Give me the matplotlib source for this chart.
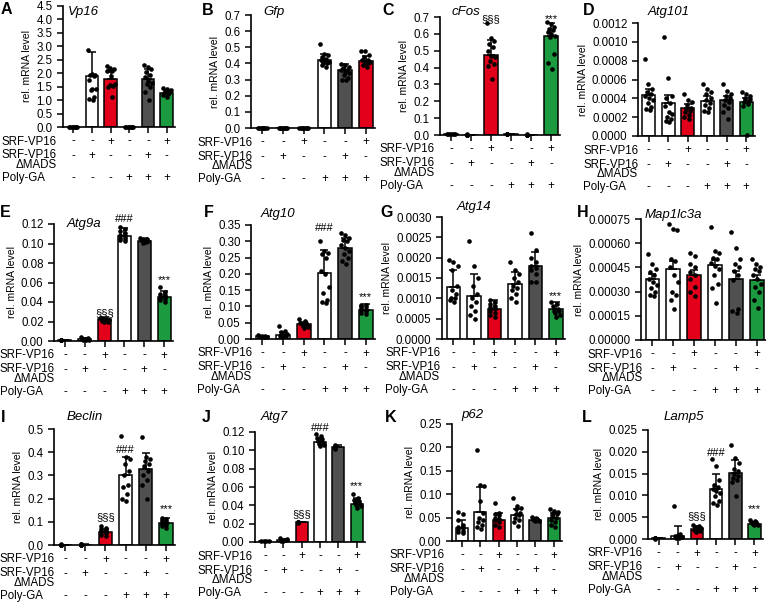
import matplotlib
matplotlib.use("Agg")
import matplotlib.pyplot as plt
import matplotlib.transforms as mtransforms
import numpy as np

plt.rcParams.update({
    "font.family": ["Liberation Sans", "DejaVu Sans"],
    "axes.spines.top": False,
    "axes.spines.right": False,
    "axes.linewidth": 1.2,
})

# condition table under every panel
ROW_SRF = ["-", "-", "+", "-", "-", "+"]
ROW_DMADS = ["-", "+", "-", "-", "+", "-"]
ROW_POLYGA = ["-", "-", "-", "+", "+", "+"]

WHITE, RED, GREY, GREEN = "#ffffff", "#e3001b", "#505050", "#1c9a3f"
COLORS_STD = [WHITE, WHITE, RED, WHITE, GREY, GREEN]
COLORS_GFP = [WHITE, WHITE, WHITE, WHITE, GREY, RED]

# A  Vp16
VP16_MEAN = [0.0, 1.89, 1.77, 0.0, 1.80, 1.28]
VP16_SD = [0.0, 0.90, 0.35, 0.0, 0.35, 0.10]
VP16_PTS = [
    [0.0, 0.0, 0.0, 0.0, 0.0, 0.0, 0.0, 0.0],
    [2.85, 1.97, 1.95, 1.93, 1.9, 1.75, 1.42, 1.40, 1.38, 1.1, 1.05, 1.02],
    [2.28, 2.2, 2.15, 2.12, 2.1, 2.08, 1.9, 1.6, 1.55, 1.52, 1.5, 1.12],
    [0.0, 0.0, 0.0, 0.0, 0.0, 0.0, 0.0, 0.0],
    [2.3, 2.25, 2.15, 2.05, 1.95, 1.85, 1.7, 1.65, 1.6, 1.5, 1.3, 1.0],
    [1.45, 1.4, 1.38, 1.35, 1.33, 1.3, 1.28, 1.25, 1.22, 1.2, 1.1],
]
# B  Gfp
GFP_MEAN = [0.0, 0.0, 0.0, 0.42, 0.36, 0.414]
GFP_SD = [0.0, 0.0, 0.0, 0.04, 0.035, 0.032]
GFP_PTS = [
    [0.0] * 8, [0.0] * 8, [0.0] * 8,
    [0.52, 0.46, 0.45, 0.44, 0.43, 0.42, 0.42, 0.41, 0.40, 0.40, 0.39, 0.38],
    [0.395, 0.39, 0.38, 0.37, 0.36, 0.36, 0.35, 0.34, 0.33, 0.31, 0.30, 0.30],
    [0.475, 0.475, 0.45, 0.44, 0.42, 0.42, 0.41, 0.41, 0.40, 0.40, 0.39, 0.38],
]
# C  cFos
CFOS_MEAN = [0.005, 0.002, 0.475, 0.005, 0.002, 0.59]
CFOS_SD = [0.0, 0.0, 0.09, 0.0, 0.0, 0.075]
CFOS_PTS = [
    [0.008, 0.006, 0.005, 0.004, 0.003, 0.005],
    [0.003, 0.002, 0.002, 0.001, 0.002],
    [0.665, 0.575, 0.56, 0.54, 0.52, 0.50, 0.47, 0.46, 0.44, 0.42, 0.41, 0.33],
    [0.008, 0.006, 0.005, 0.004, 0.005],
    [0.003, 0.002, 0.002, 0.001, 0.002],
    [0.67, 0.66, 0.64, 0.63, 0.62, 0.61, 0.60, 0.59, 0.58, 0.48, 0.43, 0.39],
]
# D  Atg101
ATG101_MEAN = [0.000437, 0.000350, 0.000295, 0.000376, 0.000383, 0.000366]
ATG101_SD = [0.00006, 0.00009, 0.000045, 0.000045, 0.000045, 0.000035]
ATG101_PTS = [
    [0.00082, 0.00055, 0.0005, 0.00047, 0.00045, 0.00043, 0.0004, 0.00038, 0.00035, 0.00031, 0.00029, 0.00028],
    [0.00105, 0.00062, 0.00043, 0.0004, 0.00035, 0.00032, 0.00025, 0.00023, 0.0002, 0.00018, 0.00016, 0.00015],
    [0.00045, 0.00038, 0.00036, 0.00033, 0.0003, 0.00029, 0.00027, 0.00025, 0.00022, 0.0002, 0.00018],
    [0.00055, 0.0005, 0.00047, 0.00045, 0.0004, 0.00038, 0.00035, 0.00033, 0.0003, 0.00027, 0.00025],
    [0.00055, 0.00048, 0.00045, 0.00043, 0.0004, 0.00038, 0.00036, 0.00033, 0.0003, 0.00025, 0.00018],
    [0.00047, 0.00045, 0.00043, 0.0004, 0.00039, 0.00038, 0.00037, 0.00036, 0.00034, 0.00032, 0.00001],
]
# E  Atg9a
ATG9A_MEAN = [0.001, 0.002, 0.0223, 0.108, 0.103, 0.045]
ATG9A_SD = [0.0, 0.001, 0.0024, 0.0075, 0.003, 0.006]
ATG9A_PTS = [
    [0.001, 0.001, 0.0012, 0.0008, 0.001],
    [0.004, 0.003, 0.002, 0.002, 0.0015, 0.001, 0.001],
    [0.024, 0.023, 0.023, 0.022, 0.022, 0.021, 0.02, 0.019],
    [0.117, 0.115, 0.113, 0.111, 0.109, 0.107, 0.106, 0.105, 0.104, 0.103],
    [0.106, 0.105, 0.104, 0.104, 0.103, 0.102, 0.101],
    [0.055, 0.05, 0.048, 0.047, 0.046, 0.045, 0.044, 0.043, 0.042, 0.04],
]
# F  Atg10
ATG10_MEAN = [0.008, 0.012, 0.045, 0.202, 0.28, 0.09]
ATG10_SD = [0.002, 0.008, 0.007, 0.071, 0.029, 0.018]
ATG10_PTS = [
    [0.012, 0.01, 0.009, 0.008, 0.007, 0.006, 0.005],
    [0.04, 0.025, 0.02, 0.015, 0.012, 0.01, 0.008, 0.005],
    [0.06, 0.055, 0.05, 0.048, 0.045, 0.042, 0.04, 0.038, 0.035],
    [0.30, 0.27, 0.265, 0.26, 0.25, 0.21, 0.2, 0.16, 0.14, 0.12, 0.115, 0.11],
    [0.325, 0.32, 0.31, 0.305, 0.30, 0.29, 0.28, 0.27, 0.26, 0.25, 0.24, 0.23],
    [0.105, 0.103, 0.1, 0.098, 0.095, 0.09, 0.088, 0.085, 0.08, 0.078],
]
# G  Atg14
ATG14_MEAN = [0.00128, 0.00105, 0.00075, 0.00135, 0.0018, 0.00073]
ATG14_SD = [0.00042, 0.00055, 0.0002, 0.0003, 0.00035, 0.00017]
ATG14_PTS = [
    [0.00195, 0.0019, 0.0018, 0.0017, 0.0013, 0.0012, 0.0011, 0.001, 0.001, 0.00095, 0.0009],
    [0.0024, 0.0018, 0.0015, 0.0013, 0.0011, 0.001, 0.0009, 0.0008, 0.0007, 0.0006, 0.0005],
    [0.00095, 0.0009, 0.00085, 0.0008, 0.00078, 0.00075, 0.0007, 0.00065, 0.0006, 0.00055],
    [0.0019, 0.0017, 0.0016, 0.0015, 0.0014, 0.0013, 0.00125, 0.0012, 0.0011, 0.001, 0.0009],
    [0.0026, 0.0022, 0.002, 0.0019, 0.0018, 0.00175, 0.0017, 0.0016, 0.0014, 0.0014],
    [0.0009, 0.00085, 0.0008, 0.00075, 0.0007, 0.00068, 0.00065, 0.0006, 0.00055],
]
# H  Map1lc3a
MAP1LC3A_MEAN = [0.000379, 0.000437, 0.000404, 0.000462, 0.000379, 0.000373]
MAP1LC3A_SD = [0.00003, 0.00005, 0.00003, 0.000035, 0.00005, 0.00003]
MAP1LC3A_PTS = [
    [0.00053, 0.00047, 0.00044, 0.00042, 0.0004, 0.00038, 0.00036, 0.00034, 0.00032, 0.0003, 0.00028, 0.00027],
    [0.00072, 0.00069, 0.00068, 0.0005, 0.00049, 0.00045, 0.0004, 0.00036, 0.0003, 0.00028, 0.00025, 0.00019],
    [0.00054, 0.00052, 0.00047, 0.00045, 0.00042, 0.0004, 0.00038, 0.00033, 0.0003, 0.00027],
    [0.0007, 0.00055, 0.00054, 0.00051, 0.0005, 0.00048, 0.00046, 0.00044, 0.0004, 0.00035, 0.00032, 0.00023],
    [0.00067, 0.00057, 0.0005, 0.00047, 0.00045, 0.00043, 0.0004, 0.00037, 0.00019, 0.00018, 0.00017],
    [0.0005, 0.00047, 0.00045, 0.00044, 0.00043, 0.0004, 0.00038, 0.00035, 0.00033, 0.0003, 0.00025, 0.0002],
]
# I  Beclin
BECLIN_MEAN = [0.002, 0.002, 0.056, 0.30, 0.326, 0.095]
BECLIN_SD = [0.0, 0.001, 0.012, 0.08, 0.069, 0.02]
BECLIN_PTS = [
    [0.002, 0.002, 0.001, 0.003, 0.002],
    [0.004, 0.003, 0.002, 0.001, 0.002],
    [0.08, 0.075, 0.07, 0.065, 0.06, 0.058, 0.055, 0.05, 0.045, 0.04],
    [0.47, 0.38, 0.37, 0.35, 0.32, 0.3, 0.26, 0.25, 0.22, 0.2, 0.19],
    [0.465, 0.38, 0.37, 0.36, 0.35, 0.34, 0.32, 0.3, 0.28, 0.26, 0.2],
    [0.115, 0.11, 0.108, 0.105, 0.1, 0.095, 0.09, 0.085, 0.08, 0.075],
]
# J  Atg7
ATG7_MEAN = [0.001, 0.002, 0.0217, 0.109, 0.104, 0.042]
ATG7_SD = [0.0, 0.001, 0.0005, 0.005, 0.002, 0.0057]
ATG7_PTS = [
    [0.001, 0.001, 0.0012, 0.0008],
    [0.004, 0.003, 0.002, 0.002, 0.0015, 0.001],
    [0.022, 0.0215, 0.021, 0.022, 0.0218],
    [0.118, 0.116, 0.114, 0.112, 0.11, 0.108, 0.107, 0.106, 0.105],
    [0.106, 0.105, 0.104, 0.103, 0.102],
    [0.052, 0.048, 0.046, 0.045, 0.044, 0.042, 0.04, 0.039, 0.037],
]
# K  p62
P62_MEAN = [0.0287, 0.063, 0.0458, 0.056, 0.0458, 0.05]
P62_SD = [0.017, 0.053, 0.013, 0.013, 0.004, 0.009]
P62_PTS = [
    [0.062, 0.058, 0.045, 0.035, 0.03, 0.028, 0.025, 0.022, 0.02, 0.018],
    [0.195, 0.12, 0.117, 0.085, 0.06, 0.05, 0.045, 0.04, 0.035, 0.03, 0.025],
    [0.082, 0.06, 0.057, 0.055, 0.05, 0.047, 0.045, 0.04, 0.035, 0.03],
    [0.092, 0.075, 0.07, 0.068, 0.06, 0.057, 0.055, 0.05, 0.045, 0.04, 0.033],
    [0.052, 0.05, 0.048, 0.047, 0.046, 0.045, 0.044, 0.043, 0.042],
    [0.068, 0.065, 0.063, 0.06, 0.058, 0.055, 0.05, 0.045, 0.04, 0.035, 0.03],
]
# L  Lamp5
LAMP5_MEAN = [0.0002, 0.0007, 0.0022, 0.0115, 0.0152, 0.0034]
LAMP5_SD = [0.0001, 0.0023, 0.0008, 0.0034, 0.0029, 0.0006]
LAMP5_PTS = [
    [0.0003, 0.0002, 0.0003, 0.0001, 0.0002],
    [0.0075, 0.0012, 0.001, 0.0008, 0.0005, 0.0003, 0.0002],
    [0.0033, 0.003, 0.0028, 0.0025, 0.0023, 0.002, 0.0018, 0.0015],
    [0.0183, 0.0168, 0.0135, 0.0125, 0.012, 0.0115, 0.011, 0.0105, 0.0098, 0.0088, 0.0082, 0.0078],
    [0.0215, 0.0185, 0.0175, 0.016, 0.0155, 0.015, 0.0145, 0.014, 0.0135, 0.013, 0.0098],
    [0.0043, 0.0042, 0.004, 0.0038, 0.0036, 0.0035, 0.0034, 0.0033, 0.0032],
]

W, H = 766, 602

# letter, gene, mean, sd, points, colors, ymax, ystep, decimals, marks,
# axes box (left, right, top, bottom px), title (x, y px), letter (x, y px), table label x px
PANELS = [
    ("A", "Vp16", VP16_MEAN, VP16_SD, VP16_PTS, COLORS_STD, 4.5, 0.5, 1, [],
     (63, 175, 6, 127), (68, 12), (1, 2), 2),
    ("B", "Gfp", GFP_MEAN, GFP_SD, GFP_PTS, COLORS_GFP, 0.7, 0.1, 1, [],
     (251, 375, 15, 128), (263, 12), (202, 3), 198),
    ("C", "cFos", CFOS_MEAN, CFOS_SD, CFOS_PTS, COLORS_STD, 0.7, 0.1, 1,
     [(2, "§§§", 0.69), (5, "***", 0.69)],
     (440, 560, 17, 135), (452, 12), (382, 3), 380),
    ("D", "Atg101", ATG101_MEAN, ATG101_SD, ATG101_PTS, COLORS_STD, 0.0012, 0.0002, 4, [],
     (638, 755, 23, 136), (648, 12), (583, 3), 583),
    ("E", "Atg9a", ATG9A_MEAN, ATG9A_SD, ATG9A_PTS, COLORS_STD, 0.12, 0.02, 2,
     [(2, "§§§", 0.029), (3, "###", 0.125), (5, "***", 0.062)],
     (54, 173, 224, 341), (67, 224), (0, 205), 0),
    ("F", "Atg10", ATG10_MEAN, ATG10_SD, ATG10_PTS, COLORS_STD, 0.35, 0.05, 2,
     [(3, "###", 0.34), (5, "***", 0.128)],
     (251, 375, 225, 339), (261, 214), (204, 205), 197),
    ("G", "Atg14", ATG14_MEAN, ATG14_SD, ATG14_PTS, COLORS_STD, 0.0030, 0.0005, 4,
     [(5, "***", 0.00105)],
     (442, 565, 217, 339), (457, 207), (380, 205), 385),
    ("H", "Map1lc3a", MAP1LC3A_MEAN, MAP1LC3A_SD, MAP1LC3A_PTS, COLORS_STD, 0.00075, 0.00015, 5, [],
     (641, 766, 219, 340), (645, 215), (577, 205), 588),
    ("I", "Beclin", BECLIN_MEAN, BECLIN_SD, BECLIN_PTS, COLORS_STD, 0.5, 0.1, 1,
     [(2, "§§§", 0.12), (3, "###", 0.41), (5, "***", 0.155)],
     (54, 175, 429, 545), (67, 417), (1, 410), 0),
    ("J", "Atg7", ATG7_MEAN, ATG7_SD, ATG7_PTS, COLORS_STD, 0.12, 0.02, 2,
     [(2, "§§§", 0.03), (3, "###", 0.124), (5, "***", 0.061)],
     (255, 365, 432, 542), (261, 417), (202, 410), 198),
    ("K", "p62", P62_MEAN, P62_SD, P62_PTS, COLORS_STD, 0.25, 0.05, 2, [],
     (452, 562, 424, 541), (461, 415), (385, 410), 390),
    ("L", "Lamp5", LAMP5_MEAN, LAMP5_SD, LAMP5_PTS, COLORS_STD, 0.025, 0.005, 3,
     [(2, "§§§", 0.0052), (3, "###", 0.0198), (5, "***", 0.0068)],
     (648, 763, 430, 539), (664, 417), (582, 410), 588),
]

ROW_Y = [14.5, 29, 51]  # px below the x axis for the three condition rows
TABLE_ROWS = [ROW_SRF, ROW_DMADS, ROW_POLYGA]
FS = 8.3

fig = plt.figure(figsize=(W / 100, H / 100), dpi=100)

for (letter, gene, mean, sd, pts, colors, ymax, ystep, dec, marks,
     box, title_xy, letter_xy, lab_x) in PANELS:
    l, r, t, b = box
    ax = fig.add_axes([l / W, 1 - b / H, (r - l) / W, (b - t) / H])
    x = np.arange(len(mean))
    ax.bar(x, mean, width=0.66, color=colors, edgecolor="black", linewidth=1.1, zorder=2)
    ax.errorbar(x, mean, yerr=[np.zeros(len(sd)), sd], fmt="none", ecolor="black",
                elinewidth=1.1, capsize=3, capthick=1.1, zorder=3)
    for i, vals in enumerate(pts):
        n = len(vals)
        off = ((np.arange(n) * 5) % n / max(n - 1, 1) - 0.5) * 0.42
        ax.scatter(i + off, vals, s=11, color="black", linewidths=0, zorder=4, clip_on=False)
    for i, s, yv in marks:
        ax.text(i, yv, s, ha="center", va="center", fontsize=8, clip_on=False)

    ax.set_xlim(-0.55, 5.45)
    ax.set_ylim(0, ymax)
    ticks = np.arange(0, ymax + ystep / 2, ystep)
    ax.set_yticks(ticks)
    ax.set_yticklabels([f"{v:.{dec}f}" for v in ticks], fontsize=FS)
    ax.set_xticks(x)
    ax.set_xticklabels([])
    ax.tick_params(axis="both", length=4, width=1.1)
    ax.set_ylabel("rel. mRNA level", fontsize=7.5, labelpad=3)

    fig.text(title_xy[0] / W, 1 - title_xy[1] / H, gene, fontsize=9.5, style="italic",
             ha="left", va="center")
    fig.text(letter_xy[0] / W, 1 - letter_xy[1] / H, letter, fontsize=11.5, fontweight="bold",
             ha="left", va="top")

    blend = mtransforms.blended_transform_factory(ax.transData, fig.transFigure)
    for signs, dy in zip(TABLE_ROWS, ROW_Y):
        yf = 1 - (b + dy) / H
        for i, s in enumerate(signs):
            ax.text(i, yf, s, transform=blend, ha="center", va="center", fontsize=FS, clip_on=False)
    fig.text(lab_x / W, 1 - (b + ROW_Y[0]) / H, "SRF-VP16", fontsize=FS, ha="left", va="center")
    fig.text(lab_x / W, 1 - (b + 22.5) / H, "SRF-VP16\nΔMADS", fontsize=FS, ha="left", va="top",
             multialignment="right", linespacing=0.72)
    fig.text(lab_x / W, 1 - (b + ROW_Y[2]) / H, "Poly-GA", fontsize=FS, ha="left", va="center")

fig.savefig("out.png", dpi=100)
